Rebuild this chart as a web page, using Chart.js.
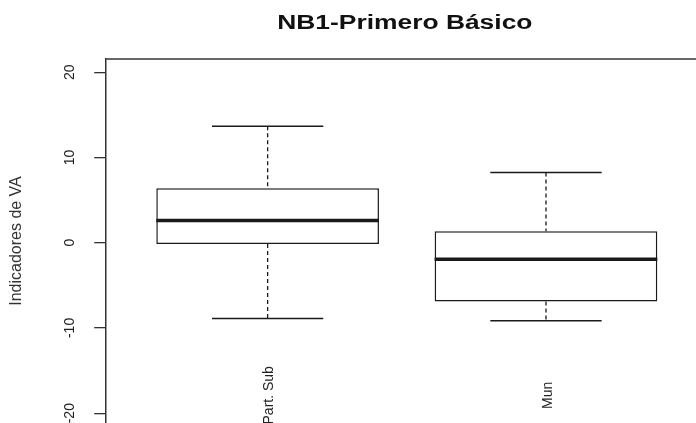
<!DOCTYPE html>
<html>
<head>
<meta charset="utf-8">
<script src="https://cdn.jsdelivr.net/npm/chart.js@4.4.1/dist/chart.umd.min.js"></script>
<style>
  html, body { margin: 0; padding: 0; background: #fff; }
  #boxChart { display: block; }
</style>
</head>
<body>
<canvas id="boxChart" width="696" height="423"></canvas>
<script>
const chartTitle = 'NB1-Primero Básico';
const yAxisTitle = 'Indicadores de VA';
const categories = ['Part. Sub', 'Mun'];
const lowWhisker = [-8.9, -9.15];
const lowerQuartile = [-0.15, -6.9];
const medianValue = [2.6, -1.95];
const upperQuartile = [6.4, 1.35];
const highWhisker = [13.65, 8.25];
const yTicks = [-20, -10, 0, 10, 20];

const ink = '#1a1a1a';

// whiskers, caps, medians, rotated labels and title, R style
const boxExtras = {
  id: 'boxExtras',
  afterDatasetsDraw(chart) {
    const ctx = chart.ctx;
    const y = chart.scales.y;
    const meta = chart.getDatasetMeta(0);
    ctx.save();
    ctx.strokeStyle = ink;
    categories.forEach((c, i) => {
      const bar = meta.data[i];
      const cx = bar.x;
      const half = bar.width / 2;
      // dashed whiskers
      ctx.setLineDash([4, 3]);
      ctx.lineWidth = 1.3;
      ctx.beginPath();
      ctx.moveTo(cx, y.getPixelForValue(highWhisker[i]));
      ctx.lineTo(cx, y.getPixelForValue(upperQuartile[i]));
      ctx.moveTo(cx, y.getPixelForValue(lowerQuartile[i]));
      ctx.lineTo(cx, y.getPixelForValue(lowWhisker[i]));
      ctx.stroke();
      // caps
      ctx.setLineDash([]);
      ctx.lineWidth = 1.5;
      ctx.beginPath();
      ctx.moveTo(cx - half / 2, y.getPixelForValue(highWhisker[i]));
      ctx.lineTo(cx + half / 2, y.getPixelForValue(highWhisker[i]));
      ctx.moveTo(cx - half / 2, y.getPixelForValue(lowWhisker[i]));
      ctx.lineTo(cx + half / 2, y.getPixelForValue(lowWhisker[i]));
      ctx.stroke();
      // median
      ctx.lineWidth = 3.5;
      ctx.beginPath();
      ctx.moveTo(cx - half, y.getPixelForValue(medianValue[i]));
      ctx.lineTo(cx + half, y.getPixelForValue(medianValue[i]));
      ctx.stroke();
    });
    ctx.restore();
  },
  afterDraw(chart) {
    const ctx = chart.ctx;
    const x = chart.scales.x;
    const y = chart.scales.y;
    const area = chart.chartArea;
    ctx.save();
    // top frame line (right side runs off the picture)
    ctx.strokeStyle = '#333';
    ctx.lineWidth = 1.5;
    ctx.beginPath();
    ctx.moveTo(area.left, area.top);
    ctx.lineTo(chart.width + 5, area.top);
    ctx.stroke();

    ctx.fillStyle = '#222';
    ctx.font = '14px "Liberation Sans", Arial, sans-serif';
    ctx.textAlign = 'center';
    ctx.textBaseline = 'middle';
    // y tick labels, turned like R's las=0
    yTicks.forEach(v => {
      ctx.save();
      ctx.translate(area.left - 36, y.getPixelForValue(v));
      ctx.rotate(-Math.PI / 2);
      ctx.fillText(String(v), 0, 0);
      ctx.restore();
    });
    // group names, vertical
    categories.forEach((c, i) => {
      ctx.save();
      ctx.translate(x.getPixelForValue(i + 1) + 2, y.getPixelForValue(-17.9));
      ctx.rotate(-Math.PI / 2);
      ctx.fillText(c, 0, 0);
      ctx.restore();
    });
    // main title, a bit wide like the original
    ctx.font = 'bold 20px "Liberation Sans", Arial, sans-serif';
    ctx.fillStyle = '#111';
    ctx.textBaseline = 'alphabetic';
    ctx.translate(x.getPixelForValue(1.5) - 2, 29);
    ctx.scale(1.32, 1);
    ctx.fillText(chartTitle, 0, 0);
    ctx.restore();
  }
};

const data = {
  datasets: [
    {
      label: 'IQR',
      data: categories.map((c, i) => ({ x: i + 1, y: [lowerQuartile[i], upperQuartile[i]] })),
      backgroundColor: '#ffffff',
      borderColor: ink,
      borderWidth: 1.5,
      borderSkipped: false,
      barPercentage: 0.8,
      categoryPercentage: 1
    }
  ]
};

const config = {
  type: 'bar',
  data: data,
  options: {
    responsive: false,
    animation: false,
    layout: { padding: { left: 2, top: 59, right: 0, bottom: 0 } },
    plugins: {
      legend: { display: false },
      tooltip: { enabled: false }
    },
    scales: {
      x: {
        type: 'linear',
        display: false,
        offset: false,
        min: 0.42,
        max: 2.539,
        afterBuildTicks: scale => { scale.ticks = categories.map((c, i) => ({ value: i + 1 })); }
      },
      y: {
        min: -21.15,
        max: 21.55,
        afterBuildTicks: scale => { scale.ticks = yTicks.map(v => ({ value: v })); },
        ticks: { display: false },
        grid: { drawOnChartArea: false, tickLength: 12, color: '#333', lineWidth: 1.3 },
        border: { display: true, color: '#333', width: 1.5 },
        title: {
          display: true,
          text: yAxisTitle,
          color: '#333',
          font: { family: '"Liberation Sans", Arial, sans-serif', size: 16 },
          padding: { top: 5, bottom: 68 }
        }
      }
    }
  },
  plugins: [boxExtras]
};

window.boxChart = new Chart(document.getElementById('boxChart'), config);
</script>
</body>
</html>
